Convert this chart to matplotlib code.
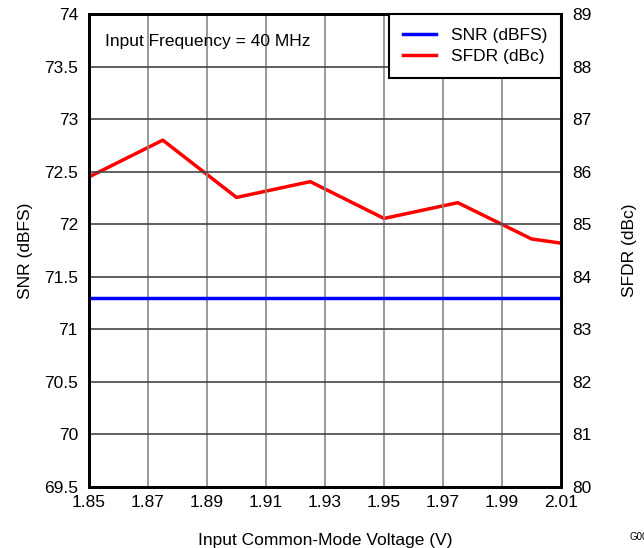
import numpy as np
import matplotlib.pyplot as plt

plt.rcParams['font.family'] = ['Liberation Sans', 'DejaVu Sans']

# data
voltage = [1.85, 1.875, 1.90, 1.925, 1.95, 1.975, 2.00, 2.01]
snr = [71.3, 71.3, 71.3, 71.3, 71.3, 71.3, 71.3, 71.3]
sfdr = [85.90, 86.60, 85.51, 85.81, 85.11, 85.41, 84.72, 84.64]

fs = 12.5

fig = plt.figure(figsize=(6.44, 5.48), dpi=100)
ax = fig.add_axes([89 / 644, 1 - 487 / 548, 472 / 644, 473 / 548])
ax2 = ax.twinx()

l1, = ax.plot(voltage, snr, color='#0000ff', lw=2.5)
l2, = ax2.plot(voltage, sfdr, color='#ff0000', lw=2.5)

ax.set_xlim(1.85, 2.01)
ax.set_ylim(69.5, 74)
ax2.set_ylim(80, 89)
ax.set_xticks(np.arange(1.85, 2.0101, 0.02))
ax.set_xticklabels(['1.85', '1.87', '1.89', '1.91', '1.93', '1.95', '1.97', '1.99', '2.01'])
ax.set_yticks(np.arange(69.5, 74.01, 0.5))
ax.set_yticklabels(['69.5', '70', '70.5', '71', '71.5', '72', '72.5', '73', '73.5', '74'])
ax2.set_yticks(np.arange(80, 89.1, 1))

ax.grid(axis='x', color='#888888', lw=1.2)
ax.grid(axis='y', color='#444444', lw=1.2)
ax.set_axisbelow(True)
for a in (ax, ax2):
    a.tick_params(axis='y', length=0, labelsize=fs, pad=8)
    a.tick_params(axis='x', length=0, labelsize=fs, pad=6)
    for s in a.spines.values():
        s.set_linewidth(2.0)
ax.set_zorder(ax2.get_zorder() + 1)
ax.patch.set_visible(False)
ax2.set_zorder(0)

ax.set_xlabel('Input Common-Mode Voltage (V)', fontsize=fs, labelpad=16)
ax.set_ylabel('SNR (dBFS)', fontsize=fs, labelpad=8)
ax2.set_ylabel('SFDR (dBc)', fontsize=fs, labelpad=22)

ax.text(0.034, 0.957, 'Input Frequency = 40 MHz', transform=ax.transAxes,
        fontsize=fs, va='top', ha='left')
leg = ax.legend([l1, l2], ['SNR (dBFS)', 'SFDR (dBc)'], loc='upper right',
                fontsize=fs, frameon=True, fancybox=False, framealpha=1,
                edgecolor='black', borderaxespad=0, borderpad=0.8,
                handlelength=1.9, handletextpad=0.85, labelspacing=0.35,
                handleheight=0.7)
leg._legend_box.sep = 4
leg.get_frame().set_linewidth(1.5)

fig.text(630 / 644, 1 - 537 / 548, 'G001', fontsize=7, ha='left', va='center')

fig.savefig('out.png', dpi=100)
